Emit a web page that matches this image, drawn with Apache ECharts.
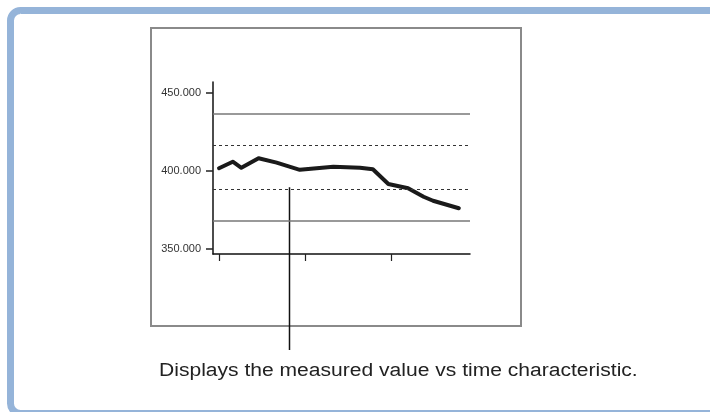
<!DOCTYPE html>
<html>
<head>
<meta charset="utf-8">
<script src="https://cdn.jsdelivr.net/npm/echarts@6/dist/echarts.min.js"></script>
<style>
	html, body { margin: 0; padding: 0; background: #fff; }
	#chart { width: 710px; height: 412px; }
</style>
</head>
<body>
<div id="chart"></div>
<script>
// 时间轴刻度 / 数值轴刻度
var xTicks = [0, 10, 20];
var yTicks = [350, 400, 450];
// 测量值随时间变化
var timeIdx = [0, 1.6, 2.6, 4.6, 6.7, 9.4, 13.3, 16.4, 17.9, 19.7, 22, 23.8, 24.9, 27.9];
var measured = [401.6, 405.8, 401.9, 408.0, 405.2, 400.6, 402.6, 401.9, 400.9, 391.5, 388.7, 383.3, 380.7, 375.9];
// 上下限 / 警告线
var limitLines = [436.6, 367.7];
var warnLines = [416.5, 388.1];
var pointerAt = 8.2;
var caption = 'Displays the measured value vs time characteristic.';

var chart = echarts.init(document.getElementById('chart'));

var points = timeIdx.map(function(t, i){
	return [t, measured[i]];
});

var markData = [];
limitLines.forEach(function(v){
	markData.push({ yAxis: v, lineStyle: { color: '#777', width: 1.5, type: 'solid' } });
});
warnLines.forEach(function(v){
	markData.push({ yAxis: v, lineStyle: { color: '#333', width: 1, type: [3, 3] } });
});

var option = {
	animation: false,
	grid: {
		left: 213,
		right: 240,
		top: 82,
		bottom: 158
	},
	xAxis: {
		type: 'value',
		min: -0.7,
		max: 29.2,
		splitLine: { show: false },
		axisLine: { onZero: false, lineStyle: { color: '#111', width: 1.5 } },
		axisTick: {
			show: true,
			customValues: xTicks,
			length: 7,
			lineStyle: { color: '#222', width: 1.2 }
		},
		axisLabel: { show: false }
	},
	yAxis: {
		type: 'value',
		min: 346.5,
		max: 457,
		splitLine: { show: false },
		axisLine: { show: true, onZero: false, lineStyle: { color: '#111', width: 1.5 } },
		axisTick: {
			show: true,
			customValues: yTicks,
			length: 7,
			lineStyle: { color: '#222', width: 1.5 }
		},
		axisLabel: {
			customValues: yTicks,
			margin: 12,
			color: '#333',
			fontSize: 11,
			fontFamily: 'Liberation Sans, Arial, sans-serif',
			formatter: function(v){ return v.toFixed(3); }
		}
	},
	series: [
		{
			type: 'line',
			data: points,
			symbol: 'none',
			lineStyle: { color: '#1a1a1a', width: 4, join: 'round', cap: 'round' },
			markLine: {
				silent: true,
				symbol: 'none',
				label: { show: false },
				data: markData
			}
		}
	]
};
chart.setOption(option);

// 外框、图表框、指示线和说明文字
var pointerTop = chart.convertToPixel({ gridIndex: 0 }, [pointerAt, warnLines[1]]);
chart.setOption({
	graphic: [
		{
			type: 'rect',
			shape: { x: 10.5, y: 10.5, width: 740, height: 403, r: 10 },
			style: { fill: 'none', stroke: '#95b4d9', lineWidth: 7 },
			silent: true
		},
		{
			type: 'rect',
			shape: { x: 151, y: 28, width: 370, height: 298 },
			style: { fill: 'none', stroke: '#8a8a8a', lineWidth: 2 },
			silent: true
		},
		{
			type: 'line',
			shape: { x1: pointerTop[0], y1: pointerTop[1] - 2, x2: pointerTop[0], y2: 350 },
			style: { stroke: '#111', lineWidth: 1.5 },
			silent: true
		},
		{
			type: 'text',
			x: 159,
			y: 371,
			scaleX: 1.17,
			style: {
				x: 0,
				y: 0,
				text: caption,
				fill: '#222',
				font: '18px "Liberation Sans", Arial, sans-serif',
				textVerticalAlign: 'middle'
			},
			silent: true
		}
	]
});
</script>
</body>
</html>
